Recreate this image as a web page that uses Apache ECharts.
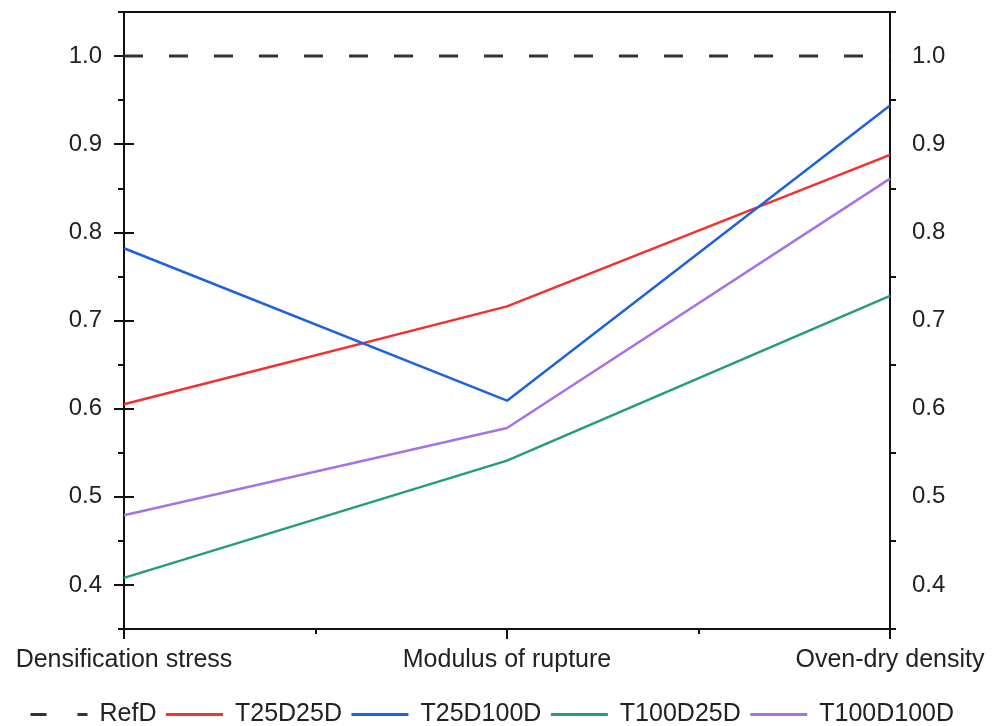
<!DOCTYPE html>
<html><head><meta charset="utf-8">
<script src="https://cdn.jsdelivr.net/npm/echarts@6/dist/echarts.min.js"></script>
<style>html,body{margin:0;padding:0;background:#fff}#c{width:995px;height:726px}</style>
</head><body><div id="c"></div>
<script>
const categories = ['Densification stress', 'Modulus of rupture', 'Oven-dry density'];
const seriesNames = ['RefD', 'T25D25D', 'T25D100D', 'T100D25D', 'T100D100D'];
const RefD = [1.0, 1.0, 1.0];
const T25D25D = [0.605, 0.716, 0.888];
const T25D100D = [0.782, 0.609, 0.944];
const T100D25D = [0.408, 0.541, 0.728];
const T100D100D = [0.479, 0.578, 0.861];
const yTicks = [0.4, 0.5, 0.6, 0.7, 0.8, 0.9, 1.0];
const yMinorTicks = [0.35, 0.45, 0.55, 0.65, 0.75, 0.85, 0.95, 1.05];

const colors = ['#333333', '#f2302f', '#1f62e0', '#24a070', '#a672e6'];
const values = [RefD, T25D25D, T25D100D, T100D25D, T100D100D];
const font = 'Liberation Sans, Arial, sans-serif';

function yAxisMajor(pos) {
  return {
    type: 'value', min: 0.35, max: 1.05, position: pos,
    axisLine: {show: true, lineStyle: {color: '#111', width: 2}},
    axisTick: {show: true, length: 10, customValues: yTicks, lineStyle: {color: '#111', width: 2}},
    splitLine: {show: false},
    axisLabel: {
      fontFamily: font, fontSize: 24, color: '#222', margin: 22,
      customValues: yTicks, formatter: v => v.toFixed(1)
    }
  };
}
function yAxisMinor(pos) {
  return {
    type: 'value', min: 0.35, max: 1.05, position: pos,
    axisLine: {show: false},
    axisTick: {show: true, length: 6, customValues: yMinorTicks, lineStyle: {color: '#111', width: 2}},
    splitLine: {show: false},
    axisLabel: {show: false}
  };
}

const chart = echarts.init(document.getElementById('c'));
chart.setOption({
  animation: false,
  grid: {left: 124, right: 105, top: 12, bottom: 97, show: true, borderColor: '#111', borderWidth: 2},
  legend: {
    top: 697, left: 24, itemWidth: 57, itemHeight: 14, itemGap: 8,
    itemStyle: {opacity: 0},
    textStyle: {fontFamily: font, fontSize: 25, color: '#222', padding: [0, 0, 0, 7]},
    data: seriesNames.map((n, i) => ({
      name: n,
      lineStyle: {color: colors[i], width: 3, type: i === 0 ? [16, 31] : 'solid'}
    }))
  },
  xAxis: [{
    type: 'value', min: 0, max: 2, interval: 1,
    axisLine: {show: true, onZero: false, lineStyle: {color: '#111', width: 2}},
    axisTick: {show: true, length: 10, lineStyle: {color: '#111', width: 2}},
    splitLine: {show: false},
    axisLabel: {
      fontFamily: font, fontSize: 25, color: '#222', margin: 19,
      formatter: v => categories[Math.round(v)]
    }
  }, {
    type: 'value', min: 0, max: 2, position: 'bottom',
    axisLine: {show: false},
    axisTick: {show: true, length: 5, customValues: [0.5, 1.5], lineStyle: {color: '#111', width: 2}},
    splitLine: {show: false},
    axisLabel: {show: false}
  }],
  yAxis: [yAxisMajor('left'), yAxisMajor('right'), yAxisMinor('left'), yAxisMinor('right')],
  series: values.map((arr, i) => ({
    name: seriesNames[i], type: 'line', showSymbol: false, symbol: 'none',
    data: arr.map((v, j) => [j, v]),
    lineStyle: {color: colors[i], width: i === 0 ? 3 : 2.5, type: i === 0 ? [19, 26] : 'solid'},
    itemStyle: {color: colors[i]}
  }))
});
</script></body></html>
